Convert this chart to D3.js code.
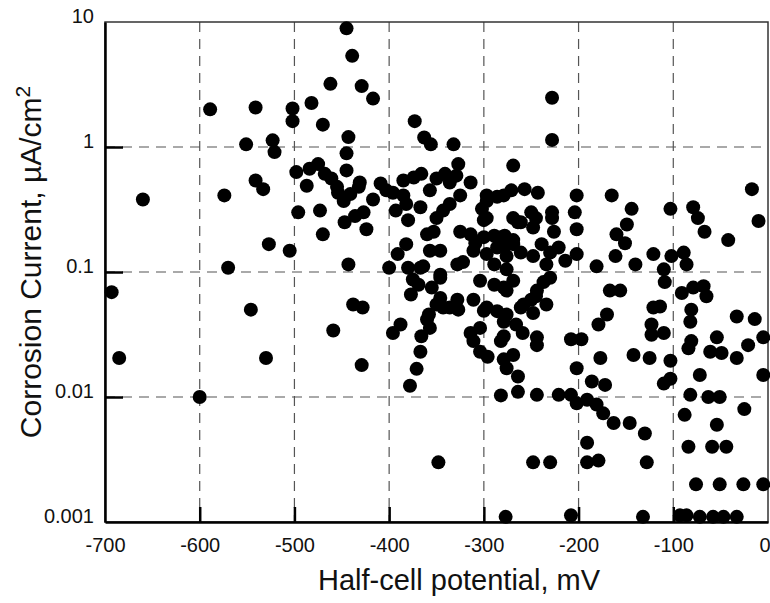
<!DOCTYPE html>
<html>
<head>
<meta charset="utf-8">
<title>Corrosion current vs half-cell potential</title>
<style>
  body { margin: 0; background: #fff; }
  svg { display: block; font-family: 'Liberation Sans', Arial, sans-serif; }
</style>
<script src="https://d3js.org/d3.v7.min.js"></script>
</head>
<body>
<script>
// half-cell potential (mV) and corrosion current (uA/cm2)
const potential = [
  -693, -685, -660, -600, -589, -574, -570, -551, -546, -541, -541, -533, -530, -527, -523, -521,
  -505, -502, -502, -498, -496, -487, -484, -482, -475, -473, -470, -470, -468, -462, -461, -459,
  -455, -454, -448, -447, -445, -445, -445, -443, -443, -441, -439, -438, -436, -432, -431, -429,
  -429, -428, -427, -424, -417, -417, -409, -403, -400, -396, -396, -393, -391, -388, -385, -385,
  -382, -382, -380, -380, -378, -377, -375, -374, -373, -371, -369, -367, -367, -367, -366, -366,
  -364, -363, -360, -360, -358, -357, -357, -357, -356, -355, -353, -350, -350, -350, -348, -346,
  -346, -346, -346, -343, -343, -341, -336, -336, -336, -332, -329, -328, -328, -327, -327, -325,
  -325, -322, -314, -314, -314, -311, -311, -311, -309, -304, -304, -304, -302, -300, -300, -300,
  -297, -297, -297, -297, -297, -296, -289, -289, -289, -286, -286, -286, -282, -282, -282, -279,
  -279, -279, -279, -279, -279, -278, -277, -276, -276, -276, -276, -276, -271, -269, -269, -269,
  -269, -269, -269, -266, -264, -264, -264, -261, -261, -261, -259, -258, -257, -250, -250, -248,
  -248, -248, -248, -245, -245, -244, -244, -244, -244, -243, -239, -237, -234, -234, -230, -230,
  -230, -228, -228, -228, -228, -226, -221, -221, -214, -208, -208, -208, -204, -202, -202, -202,
  -202, -202, -197, -191, -191, -191, -186, -181, -181, -179, -179, -177, -174, -172, -170, -167,
  -165, -163, -161, -160, -156, -151, -149, -146, -144, -142, -140, -132, -130, -128, -125, -123,
  -123, -121, -121, -114, -110, -110, -110, -109, -103, -103, -103, -102, -93, -91, -89, -88,
  -86, -86, -84, -84, -82, -82, -81, -81, -79, -79, -76, -74, -72, -72, -68, -67,
  -65, -63, -61, -59, -58, -54, -54, -51, -51, -49, -47, -44, -42, -33, -33, -33,
  -26, -25, -21, -17, -14, -10, -5, -5, -5
];
const current = [
  0.069, 0.0205, 0.38, 0.01, 2.0, 0.41, 0.108, 1.05, 0.05, 2.07, 0.54, 0.46, 0.0205, 0.167, 1.13, 0.91,
  0.148, 2.03, 1.61, 0.63, 0.30, 0.49, 0.67, 2.25, 0.73, 0.31, 1.51, 0.20, 0.61, 3.2, 0.56, 0.034,
  0.48, 0.43, 0.37, 0.25, 8.9, 0.65, 0.89, 1.2, 0.115, 0.42, 5.36, 0.055, 0.28, 0.48, 0.52, 3.07,
  0.018, 0.052, 0.30, 0.22, 2.44, 0.38, 0.51, 0.45, 0.108, 0.43, 0.0325, 0.31, 0.139, 0.038, 0.54, 0.41,
  0.35, 0.167, 0.26, 0.108, 0.0123, 0.066, 0.087, 0.57, 1.61, 0.0168, 0.079, 0.33, 0.108, 0.023, 0.61, 0.0306,
  0.111, 1.19, 0.2, 0.0417, 0.0457, 0.0357, 0.148, 0.45, 1.05, 0.075, 0.21, 0.56, 0.27, 0.055, 0.003, 0.062,
  0.148, 0.09, 0.095, 0.31, 0.052, 0.61, 0.52, 0.35, 0.052, 1.05, 0.59, 0.115, 0.06, 0.73, 0.05, 0.41,
  0.21, 0.12, 0.52, 0.2, 0.0325, 0.148, 0.06, 0.028, 0.17, 0.085, 0.0357, 0.023, 0.32, 0.26, 0.19, 0.049,
  0.41, 0.37, 0.27, 0.139, 0.052, 0.021, 0.195, 0.115, 0.079, 0.40, 0.157, 0.0486, 0.19, 0.028, 0.0103, 0.41,
  0.157, 0.04, 0.02, 0.0306, 0.075, 0.195, 0.0011, 0.134, 0.105, 0.071, 0.0457, 0.017, 0.45, 0.71, 0.27, 0.18,
  0.167, 0.085, 0.0217, 0.038, 0.25, 0.0146, 0.011, 0.25, 0.143, 0.052, 0.0325, 0.055, 0.46, 0.30, 0.06, 0.227,
  0.134, 0.047, 0.003, 0.27, 0.064, 0.071, 0.03, 0.026, 0.0104, 0.43, 0.167, 0.083, 0.115, 0.055, 0.09, 0.143,
  0.003, 2.48, 1.14, 0.30, 0.27, 0.21, 0.157, 0.0104, 0.123, 0.029, 0.0104, 0.00113, 0.30, 0.41, 0.22, 0.139,
  0.017, 0.0089, 0.029, 0.0095, 0.0043, 0.003, 0.0133, 0.111, 0.0087, 0.038, 0.0031, 0.0205, 0.0074, 0.0125, 0.0457, 0.071,
  0.41, 0.0062, 0.134, 0.2, 0.071, 0.17, 0.24, 0.0062, 0.32, 0.0217, 0.115, 0.0011, 0.0051, 0.003, 0.0205, 0.038,
  0.0315, 0.139, 0.052, 0.053, 0.105, 0.0325, 0.0128, 0.083, 0.32, 0.0195, 0.014, 0.134, 0.00113, 0.068, 0.143, 0.0072,
  0.115, 0.00113, 0.0245, 0.004, 0.04, 0.0104, 0.05, 0.028, 0.33, 0.075, 0.002, 0.27, 0.015, 0.0011, 0.077, 0.21,
  0.064, 0.01, 0.023, 0.004, 0.0011, 0.03, 0.006, 0.01, 0.002, 0.0225, 0.0011, 0.004, 0.18, 0.044, 0.0205, 0.0011,
  0.002, 0.008, 0.026, 0.46, 0.042, 0.256, 0.03, 0.015, 0.002
];

const xTicks = [-700, -600, -500, -400, -300, -200, -100, 0];
const xTickLabels = ['-700', '-600', '-500', '-400', '-300', '-200', '-100', '0'];
const yTicks = [0.001, 0.01, 0.1, 1, 10];
const yTickLabels = ['0.001', '0.01', '0.1', '1', '10'];

const WIDTH = 770, HEIGHT = 603;
const plotLeft = 105, plotRight = 768, plotTop = 22, plotBottom = 522;

const svg = d3.select('body').append('svg')
  .attr('width', WIDTH)
  .attr('height', HEIGHT);

const x = d3.scaleLinear().domain([-700, 0]).range([plotLeft, plotRight]);
const y = d3.scaleLog().domain([0.001, 10]).range([plotBottom, plotTop]);

// dashed grid
svg.append('g')
  .selectAll('line')
  .data(xTicks.slice(1, -1))
  .join('line')
  .attr('x1', d => x(d)).attr('x2', d => x(d))
  .attr('y1', plotTop).attr('y2', plotBottom)
  .attr('stroke', '#555')
  .attr('stroke-width', 1.2)
  .attr('stroke-dasharray', '10,7');

svg.append('g')
  .selectAll('line')
  .data(yTicks.slice(1, -1))
  .join('line')
  .attr('x1', plotLeft).attr('x2', plotRight)
  .attr('y1', d => y(d)).attr('y2', d => y(d))
  .attr('stroke', '#555')
  .attr('stroke-width', 1.2)
  .attr('stroke-dasharray', '10,7');

// frame
svg.append('rect')
  .attr('x', plotLeft).attr('y', plotTop)
  .attr('width', plotRight - plotLeft).attr('height', plotBottom - plotTop)
  .attr('fill', 'none')
  .attr('stroke', '#333')
  .attr('stroke-width', 1.5);

// axes (ticks point inward)
const xAxis = svg.append('g')
  .attr('transform', `translate(0,${plotBottom})`)
  .call(d3.axisBottom(x).tickValues(xTicks).tickSizeInner(-15).tickSizeOuter(0)
    .tickFormat((d, i) => xTickLabels[i]));
const yAxis = svg.append('g')
  .attr('transform', `translate(${plotLeft},0)`)
  .call(d3.axisLeft(y).tickValues(yTicks).tickSizeInner(-18).tickSizeOuter(0)
    .tickFormat((d, i) => yTickLabels[i]));

[xAxis, yAxis].forEach(g => {
  g.select('.domain').attr('stroke', '#000').attr('stroke-width', 2.5);
  g.selectAll('.tick line').attr('stroke', '#000').attr('stroke-width', 2.5);
  g.selectAll('.tick text')
    .attr('font-family', "'Liberation Sans', Arial, sans-serif")
    .attr('font-size', 20)
    .attr('fill', '#111');
});
yAxis.selectAll('.tick text').attr('x', -11).attr('dy', '0.0em');
xAxis.selectAll('.tick text').attr('y', 16).attr('dy', '0.71em');
// the last label sits against the right edge, as in the original
xAxis.selectAll('.tick text').filter(d => d === 0).attr('text-anchor', 'end').attr('x', 2);
// no tick marks at the corners
xAxis.selectAll('.tick line').filter(d => d === -700 || d === 0).remove();
yAxis.selectAll('.tick line').filter(d => d === 0.001 || d === 10).remove();

// points
svg.append('g')
  .selectAll('circle')
  .data(potential.map((p, i) => [p, current[i]]))
  .join('circle')
  .attr('cx', d => x(d[0]))
  .attr('cy', d => y(d[1]))
  .attr('r', 7)
  .attr('fill', '#000');

// axis titles
svg.append('text')
  .attr('x', 459).attr('y', 590)
  .attr('text-anchor', 'middle')
  .attr('font-size', 29)
  .attr('fill', '#111')
  .text('Half-cell potential, mV');

const yTitle = svg.append('text')
  .attr('transform', 'translate(41,262) rotate(-90)')
  .attr('text-anchor', 'middle')
  .attr('font-size', 30)
  .attr('fill', '#111');
yTitle.append('tspan').text('Corrosion Current, \u00b5A/cm');
yTitle.append('tspan').attr('font-size', 21).attr('dy', -11).text('2');
</script>
</body>
</html>
